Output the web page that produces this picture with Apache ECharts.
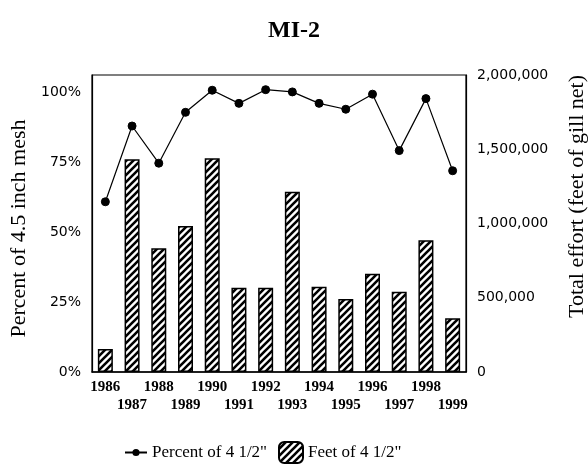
<!DOCTYPE html>
<html>
<head>
<meta charset="utf-8">
<script src="https://cdn.jsdelivr.net/npm/echarts@6/dist/echarts.min.js"></script>
<style>html,body{margin:0;padding:0;background:#fff;}#c{width:588px;height:467px;}</style>
</head>
<body>
<div id="c"></div>
<script>
var years = ['1986','1987','1988','1989','1990','1991','1992','1993','1994','1995','1996','1997','1998','1999'];
var percentOf45 = [60.9, 88.0, 74.7, 92.9, 100.8, 96.1, 101.0, 100.2, 96.1, 94.0, 99.4, 79.2, 97.8, 72.0];
var feetOf45 = [155000, 1432000, 833000, 983000, 1439000, 568000, 568000, 1214000, 574000, 492000, 662000, 541000, 887000, 362000];
var leftTicks = [0, 25, 50, 75, 100];
var rightTicks = [0, 500000, 1000000, 1500000, 2000000];

function hatch() {
  var s = 7;
  var cv = document.createElement('canvas');
  cv.width = s; cv.height = s;
  var ctx = cv.getContext('2d');
  ctx.fillStyle = '#fff';
  ctx.fillRect(0, 0, s, s);
  ctx.strokeStyle = '#000';
  ctx.lineWidth = 2.6;
  ctx.beginPath();
  ctx.moveTo(-1, s + 1); ctx.lineTo(s + 1, -1);
  ctx.moveTo(-2, 2); ctx.lineTo(2, -2);
  ctx.moveTo(s - 2, s + 2); ctx.lineTo(s + 2, s - 2);
  ctx.stroke();
  return cv;
}
var pattern = { image: hatch(), repeat: 'repeat' };

var chart = echarts.init(document.getElementById('c'), null, { renderer: 'canvas' });
var tickFont = 'DejaVu Sans';
var legendText = { fontFamily: 'Liberation Serif', fontSize: 17, color: '#000' };
chart.setOption({
  animation: false,
  backgroundColor: '#fff',
  title: {
    text: 'MI-2', left: 'center', top: 14,
    textStyle: { fontFamily: 'Liberation Serif', fontWeight: 'bold', fontSize: 24, color: '#000' }
  },
  grid: { left: 92, right: 122, top: 75, bottom: 95, containLabel: false, outerBoundsMode: 'none',
          show: true, borderColor: '#000', borderWidth: 1.2, backgroundColor: 'transparent' },
  legend: [
    {
      left: 119, top: 439, itemGap: 4, itemWidth: 22, itemHeight: 9,
      textStyle: legendText, data: ['Percent of 4 1/2"']
    },
    {
      left: 273, top: 436, itemGap: 4, itemWidth: 24, itemHeight: 21,
      textStyle: legendText, data: ['Feet of 4 1/2"']
    }
  ],
  xAxis: {
    type: 'category', data: years, boundaryGap: true,
    axisLine: { lineStyle: { color: '#000', width: 1.5 } },
    axisTick: { alignWithLabel: true, length: 4, interval: 0, lineStyle: { color: '#000' } },
    axisLabel: {
      interval: 0, margin: 6, lineHeight: 18, color: '#000',
      fontFamily: 'Liberation Serif', fontWeight: 'bold', fontSize: 15,
      formatter: function (v, i) { return i % 2 ? '\n' + v : v; }
    }
  },
  yAxis: [
    {
      type: 'value', min: 0, max: 106.25, interval: 25, position: 'left',
      name: 'Percent of 4.5 inch mesh', nameLocation: 'middle', nameRotate: 90, nameGap: 62,
      nameTextStyle: { fontFamily: 'Liberation Serif', fontSize: 22, color: '#000', padding: [0, 10, 0, 0] },
      axisLine: { show: true, lineStyle: { color: '#000', width: 1.2 } },
      axisTick: { show: false }, splitLine: { show: false },
      axisLabel: {
        margin: 11, color: '#000', fontFamily: tickFont, fontSize: 14,
        formatter: function (v) { return leftTicks.indexOf(v) >= 0 ? v + '%' : ''; }
      }
    },
    {
      type: 'value', min: 0, max: 2000000, interval: 500000, position: 'right',
      name: 'Total effort (feet of gill net)', nameLocation: 'middle', nameRotate: 90, nameGap: 100,
      nameTextStyle: { fontFamily: 'Liberation Serif', fontSize: 22, color: '#000', padding: [0, 0, 0, 54] },
      axisLine: { show: true, lineStyle: { color: '#000', width: 1.2 } },
      axisTick: { show: false }, splitLine: { show: false },
      axisLabel: {
        margin: 11, color: '#000', fontFamily: tickFont, fontSize: 14,
        formatter: function (v) { return rightTicks.indexOf(v) >= 0 ? v.toLocaleString('en-US') : ''; }
      }
    }
  ],
  series: [
    {
      name: 'Feet of 4 1/2"', type: 'bar', yAxisIndex: 1, data: feetOf45, barWidth: 15,
      itemStyle: { color: pattern, borderColor: '#000', borderWidth: 1.5 }, z: 2
    },
    {
      name: 'Percent of 4 1/2"', type: 'line', yAxisIndex: 0, data: percentOf45,
      symbol: 'circle', symbolSize: 8,
      lineStyle: { color: '#000', width: 1.2 },
      itemStyle: { color: '#000', borderColor: '#000' }, z: 3
    }
  ]
});
</script>
</body>
</html>
